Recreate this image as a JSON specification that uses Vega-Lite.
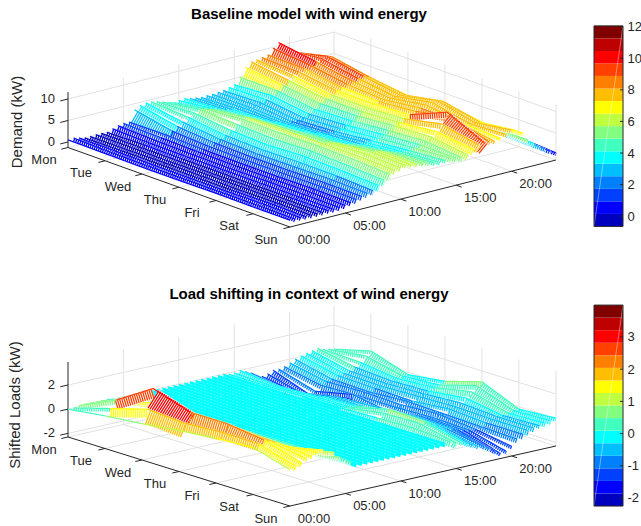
{"$schema":"https://vega.github.io/schema/vega-lite/v6.json","padding":0,"background":"white","config":{"view":{"stroke":null},"text":{"font":"Liberation Sans","fontSize":13,"fill":"#262626"},"title":{"font":"Liberation Sans","fontSize":15,"fontWeight":"bold","color":"#000000"}},"spacing":0,"resolve":{"scale":{"color":"independent"}},
"datasets":{
"jet":[{"lo":-0.65,"hi":0.14},{"lo":0.14,"hi":0.94},{"lo":0.94,"hi":1.73},{"lo":1.73,"hi":2.53},{"lo":2.53,"hi":3.32},{"lo":3.32,"hi":4.11},{"lo":4.11,"hi":4.91},{"lo":4.91,"hi":5.7},{"lo":5.7,"hi":6.49},{"lo":6.49,"hi":7.29},{"lo":7.29,"hi":8.08},{"lo":8.08,"hi":8.88},{"lo":8.88,"hi":9.67},{"lo":9.67,"hi":10.46},{"lo":10.46,"hi":11.26},{"lo":11.26,"hi":12.05}],
"jet2":[{"lo":-2.25,"hi":-1.86},{"lo":-1.86,"hi":-1.47},{"lo":-1.47,"hi":-1.08},{"lo":-1.08,"hi":-0.69},{"lo":-0.69,"hi":-0.3},{"lo":-0.3,"hi":0.09},{"lo":0.09,"hi":0.48},{"lo":0.48,"hi":0.87},{"lo":0.87,"hi":1.26},{"lo":1.26,"hi":1.65},{"lo":1.65,"hi":2.04},{"lo":2.04,"hi":2.43},{"lo":2.43,"hi":2.82},{"lo":2.82,"hi":3.21},{"lo":3.21,"hi":3.6},{"lo":3.6,"hi":3.99}],
"g1":[
{"k":"g","d":0,"h":0,"z":0,"d2":0,"h2":24,"z2":0},{"k":"g","d":0,"h":0,"z":5,"d2":0,"h2":24,"z2":5},{"k":"g","d":0,"h":0,"z":10,"d2":0,"h2":24,"z2":10},
{"k":"g","d":0,"h":24,"z":0,"d2":6,"h2":24,"z2":0},{"k":"g","d":0,"h":24,"z":5,"d2":6,"h2":24,"z2":5},{"k":"g","d":0,"h":24,"z":10,"d2":6,"h2":24,"z2":10},
{"k":"g","d":0,"h":5,"z":-1.28,"d2":0,"h2":5,"z2":11.6},{"k":"g","d":0,"h":10,"z":-1.28,"d2":0,"h2":10,"z2":11.6},{"k":"g","d":0,"h":15,"z":-1.28,"d2":0,"h2":15,"z2":11.6},{"k":"g","d":0,"h":20,"z":-1.28,"d2":0,"h2":20,"z2":11.6},{"k":"g","d":0,"h":24,"z":-1.28,"d2":0,"h2":24,"z2":10},
{"k":"g","d":1,"h":24,"z":-1.28,"d2":1,"h2":24,"z2":11.6},{"k":"g","d":2,"h":24,"z":-1.28,"d2":2,"h2":24,"z2":11.6},{"k":"g","d":3,"h":24,"z":-1.28,"d2":3,"h2":24,"z2":11.6},{"k":"g","d":4,"h":24,"z":-1.28,"d2":4,"h2":24,"z2":11.6},{"k":"g","d":5,"h":24,"z":-1.28,"d2":5,"h2":24,"z2":11.6},{"k":"g","d":6,"h":24,"z":-1.28,"d2":6,"h2":24,"z2":11.6},
{"k":"g","d":0,"h":24,"z":-1.28,"d2":6,"h2":24,"z2":-1.28},{"k":"g","d":0,"h":0,"z":-1.28,"d2":0,"h2":24,"z2":-1.28},
{"k":"g","d":1,"h":0,"z":-1.28,"d2":1,"h2":24,"z2":-1.28},{"k":"g","d":2,"h":0,"z":-1.28,"d2":2,"h2":24,"z2":-1.28},{"k":"g","d":3,"h":0,"z":-1.28,"d2":3,"h2":24,"z2":-1.28},{"k":"g","d":4,"h":0,"z":-1.28,"d2":4,"h2":24,"z2":-1.28},{"k":"g","d":5,"h":0,"z":-1.28,"d2":5,"h2":24,"z2":-1.28},
{"k":"g","d":0,"h":5,"z":-1.28,"d2":6,"h2":5,"z2":-1.28},{"k":"g","d":0,"h":10,"z":-1.28,"d2":6,"h2":10,"z2":-1.28},{"k":"g","d":0,"h":15,"z":-1.28,"d2":6,"h2":15,"z2":-1.28},{"k":"g","d":0,"h":20,"z":-1.28,"d2":6,"h2":20,"z2":-1.28},
{"k":"a","d":0,"h":0,"z":-1.28,"d2":0,"h2":0,"z2":11.6},{"k":"a","d":0,"h":0,"z":-1.28,"d2":6,"h2":0,"z2":-1.28},{"k":"a","d":6,"h":0,"z":-1.28,"d2":6,"h2":24,"z2":-1.28},
{"k":"a","d":0,"h":0,"z":0,"d2":0,"h2":-0.7,"z2":0},{"k":"a","d":0,"h":0,"z":5,"d2":0,"h2":-0.7,"z2":5},{"k":"a","d":0,"h":0,"z":10,"d2":0,"h2":-0.7,"z2":10},
{"k":"a","d":0,"h":0,"z":-1.28,"d2":0,"h2":-0.6,"z2":-1.28},{"k":"a","d":1,"h":0,"z":-1.28,"d2":1,"h2":-0.6,"z2":-1.28},{"k":"a","d":2,"h":0,"z":-1.28,"d2":2,"h2":-0.6,"z2":-1.28},{"k":"a","d":3,"h":0,"z":-1.28,"d2":3,"h2":-0.6,"z2":-1.28},{"k":"a","d":4,"h":0,"z":-1.28,"d2":4,"h2":-0.6,"z2":-1.28},{"k":"a","d":5,"h":0,"z":-1.28,"d2":5,"h2":-0.6,"z2":-1.28},{"k":"a","d":6,"h":0,"z":-1.28,"d2":6,"h2":-0.6,"z2":-1.28},
{"k":"a","d":6,"h":5,"z":-1.28,"d2":6.15,"h2":5,"z2":-1.28},{"k":"a","d":6,"h":10,"z":-1.28,"d2":6.15,"h2":10,"z2":-1.28},{"k":"a","d":6,"h":15,"z":-1.28,"d2":6.15,"h2":15,"z2":-1.28},{"k":"a","d":6,"h":20,"z":-1.28,"d2":6.15,"h2":20,"z2":-1.28}],
"g2":[
{"k":"g","d":0,"h":0,"z":-2,"d2":0,"h2":24,"z2":-2},{"k":"g","d":0,"h":0,"z":0,"d2":0,"h2":24,"z2":0},{"k":"g","d":0,"h":0,"z":2,"d2":0,"h2":24,"z2":2},
{"k":"g","d":0,"h":24,"z":-2,"d2":6,"h2":24,"z2":-2},{"k":"g","d":0,"h":24,"z":0,"d2":6,"h2":24,"z2":0},{"k":"g","d":0,"h":24,"z":2,"d2":6,"h2":24,"z2":2},
{"k":"g","d":0,"h":5,"z":-2.3,"d2":0,"h2":5,"z2":3.9},{"k":"g","d":0,"h":10,"z":-2.3,"d2":0,"h2":10,"z2":3.9},{"k":"g","d":0,"h":15,"z":-2.3,"d2":0,"h2":15,"z2":3.9},{"k":"g","d":0,"h":20,"z":-2.3,"d2":0,"h2":20,"z2":3.9},{"k":"g","d":0,"h":24,"z":-2.3,"d2":0,"h2":24,"z2":3.6},
{"k":"g","d":1,"h":24,"z":-2.3,"d2":1,"h2":24,"z2":3.9},{"k":"g","d":2,"h":24,"z":-2.3,"d2":2,"h2":24,"z2":3.9},{"k":"g","d":3,"h":24,"z":-2.3,"d2":3,"h2":24,"z2":3.9},{"k":"g","d":4,"h":24,"z":-2.3,"d2":4,"h2":24,"z2":3.9},{"k":"g","d":5,"h":24,"z":-2.3,"d2":5,"h2":24,"z2":3.9},{"k":"g","d":6,"h":24,"z":-2.3,"d2":6,"h2":24,"z2":3.9},
{"k":"g","d":0,"h":24,"z":-2.3,"d2":6,"h2":24,"z2":-2.3},{"k":"g","d":0,"h":0,"z":-2.3,"d2":0,"h2":24,"z2":-2.3},
{"k":"g","d":1,"h":0,"z":-2.3,"d2":1,"h2":24,"z2":-2.3},{"k":"g","d":2,"h":0,"z":-2.3,"d2":2,"h2":24,"z2":-2.3},{"k":"g","d":3,"h":0,"z":-2.3,"d2":3,"h2":24,"z2":-2.3},{"k":"g","d":4,"h":0,"z":-2.3,"d2":4,"h2":24,"z2":-2.3},{"k":"g","d":5,"h":0,"z":-2.3,"d2":5,"h2":24,"z2":-2.3},
{"k":"g","d":0,"h":5,"z":-2.3,"d2":6,"h2":5,"z2":-2.3},{"k":"g","d":0,"h":10,"z":-2.3,"d2":6,"h2":10,"z2":-2.3},{"k":"g","d":0,"h":15,"z":-2.3,"d2":6,"h2":15,"z2":-2.3},{"k":"g","d":0,"h":20,"z":-2.3,"d2":6,"h2":20,"z2":-2.3},
{"k":"a","d":0,"h":0,"z":-2.3,"d2":0,"h2":0,"z2":3.9},{"k":"a","d":0,"h":0,"z":-2.3,"d2":6,"h2":0,"z2":-2.3},{"k":"a","d":6,"h":0,"z":-2.3,"d2":6,"h2":24,"z2":-2.3},
{"k":"a","d":0,"h":0,"z":-2,"d2":0,"h2":-0.7,"z2":-2},{"k":"a","d":0,"h":0,"z":0,"d2":0,"h2":-0.7,"z2":0},{"k":"a","d":0,"h":0,"z":2,"d2":0,"h2":-0.7,"z2":2},
{"k":"a","d":0,"h":0,"z":-2.3,"d2":0,"h2":-0.6,"z2":-2.3},{"k":"a","d":1,"h":0,"z":-2.3,"d2":1,"h2":-0.6,"z2":-2.3},{"k":"a","d":2,"h":0,"z":-2.3,"d2":2,"h2":-0.6,"z2":-2.3},{"k":"a","d":3,"h":0,"z":-2.3,"d2":3,"h2":-0.6,"z2":-2.3},{"k":"a","d":4,"h":0,"z":-2.3,"d2":4,"h2":-0.6,"z2":-2.3},{"k":"a","d":5,"h":0,"z":-2.3,"d2":5,"h2":-0.6,"z2":-2.3},{"k":"a","d":6,"h":0,"z":-2.3,"d2":6,"h2":-0.6,"z2":-2.3},
{"k":"a","d":6,"h":5,"z":-2.3,"d2":6.15,"h2":5,"z2":-2.3},{"k":"a","d":6,"h":10,"z":-2.3,"d2":6.15,"h2":10,"z2":-2.3},{"k":"a","d":6,"h":15,"z":-2.3,"d2":6.15,"h2":15,"z2":-2.3},{"k":"a","d":6,"h":20,"z":-2.3,"d2":6.15,"h2":20,"z2":-2.3}],
"s1":[
{"h":0,"d":0,"z":0.5},{"h":0,"d":1,"z":0.4},{"h":0,"d":2,"z":0.3},{"h":0,"d":3,"z":0.3},{"h":0,"d":4,"z":0.4},{"h":0,"d":5,"z":0.3},{"h":0,"d":6,"z":0.3},
{"h":0.5,"d":0,"z":0.6},{"h":0.5,"d":1,"z":0.4},{"h":0.5,"d":2,"z":0.3},{"h":0.5,"d":3,"z":0.3},{"h":0.5,"d":4,"z":0.3},{"h":0.5,"d":5,"z":0.3},{"h":0.5,"d":6,"z":0.2},
{"h":1,"d":0,"z":0.3},{"h":1,"d":1,"z":0.3},{"h":1,"d":2,"z":0.2},{"h":1,"d":3,"z":0.2},{"h":1,"d":4,"z":0.2},{"h":1,"d":5,"z":0.3},{"h":1,"d":6,"z":0.2},
{"h":1.5,"d":0,"z":0},{"h":1.5,"d":1,"z":0.1},{"h":1.5,"d":2,"z":0.1},{"h":1.5,"d":3,"z":0.1},{"h":1.5,"d":4,"z":0.1},{"h":1.5,"d":5,"z":0.2},{"h":1.5,"d":6,"z":0.1},
{"h":2,"d":0,"z":0},{"h":2,"d":1,"z":0},{"h":2,"d":2,"z":0.1},{"h":2,"d":3,"z":0.1},{"h":2,"d":4,"z":0},{"h":2,"d":5,"z":0.1},{"h":2,"d":6,"z":0.1},
{"h":2.5,"d":0,"z":0.1},{"h":2.5,"d":1,"z":0.1},{"h":2.5,"d":2,"z":0},{"h":2.5,"d":3,"z":0.1},{"h":2.5,"d":4,"z":0.1},{"h":2.5,"d":5,"z":0.1},{"h":2.5,"d":6,"z":0.1},
{"h":3,"d":0,"z":0.1},{"h":3,"d":1,"z":0.1},{"h":3,"d":2,"z":0.1},{"h":3,"d":3,"z":0},{"h":3,"d":4,"z":0.1},{"h":3,"d":5,"z":0.1},{"h":3,"d":6,"z":0.1},
{"h":3.5,"d":0,"z":0},{"h":3.5,"d":1,"z":0.2},{"h":3.5,"d":2,"z":0.1},{"h":3.5,"d":3,"z":0.1},{"h":3.5,"d":4,"z":0},{"h":3.5,"d":5,"z":0.1},{"h":3.5,"d":6,"z":0.2},
{"h":4,"d":0,"z":0.5},{"h":4,"d":1,"z":0.3},{"h":4,"d":2,"z":0.2},{"h":4,"d":3,"z":0.2},{"h":4,"d":4,"z":0.2},{"h":4,"d":5,"z":0.2},{"h":4,"d":6,"z":0.2},
{"h":4.5,"d":0,"z":0.9},{"h":4.5,"d":1,"z":0.6},{"h":4.5,"d":2,"z":0.4},{"h":4.5,"d":3,"z":0.3},{"h":4.5,"d":4,"z":0.4},{"h":4.5,"d":5,"z":0.4},{"h":4.5,"d":6,"z":0.3},
{"h":5,"d":0,"z":1.1},{"h":5,"d":1,"z":0.9},{"h":5,"d":2,"z":0.7},{"h":5,"d":3,"z":0.6},{"h":5,"d":4,"z":0.6},{"h":5,"d":5,"z":0.7},{"h":5,"d":6,"z":0.5},
{"h":5.5,"d":0,"z":1.1},{"h":5.5,"d":1,"z":1.2},{"h":5.5,"d":2,"z":0.9},{"h":5.5,"d":3,"z":0.8},{"h":5.5,"d":4,"z":0.8},{"h":5.5,"d":5,"z":0.9},{"h":5.5,"d":6,"z":0.8},
{"h":6,"d":0,"z":3.6},{"h":6,"d":1,"z":1.8},{"h":6,"d":2,"z":1.3},{"h":6,"d":3,"z":1.2},{"h":6,"d":4,"z":1.2},{"h":6,"d":5,"z":1.3},{"h":6,"d":6,"z":1.2},
{"h":6.5,"d":0,"z":4.3},{"h":6.5,"d":1,"z":2.5},{"h":6.5,"d":2,"z":1.8},{"h":6.5,"d":3,"z":1.6},{"h":6.5,"d":4,"z":1.6},{"h":6.5,"d":5,"z":1.7},{"h":6.5,"d":6,"z":1.6},
{"h":7,"d":0,"z":4.6},{"h":7,"d":1,"z":3.2},{"h":7,"d":2,"z":2.3},{"h":7,"d":3,"z":2},{"h":7,"d":4,"z":2.1},{"h":7,"d":5,"z":2.2},{"h":7,"d":6,"z":2},
{"h":7.5,"d":0,"z":4.5},{"h":7.5,"d":1,"z":4},{"h":7.5,"d":2,"z":2.9},{"h":7.5,"d":3,"z":2.6},{"h":7.5,"d":4,"z":2.8},{"h":7.5,"d":5,"z":2.7},{"h":7.5,"d":6,"z":2.3},
{"h":8,"d":0,"z":4.2},{"h":8,"d":1,"z":4.7},{"h":8,"d":2,"z":3.7},{"h":8,"d":3,"z":3.4},{"h":8,"d":4,"z":3.8},{"h":8,"d":5,"z":3.6},{"h":8,"d":6,"z":3.2},
{"h":8.5,"d":0,"z":3.8},{"h":8.5,"d":1,"z":5.2},{"h":8.5,"d":2,"z":4.8},{"h":8.5,"d":3,"z":4.5},{"h":8.5,"d":4,"z":4.8},{"h":8.5,"d":5,"z":4.5},{"h":8.5,"d":6,"z":4.1},
{"h":9,"d":0,"z":3.4},{"h":9,"d":1,"z":5},{"h":9,"d":2,"z":5.7},{"h":9,"d":3,"z":5.6},{"h":9,"d":4,"z":5.8},{"h":9,"d":5,"z":5.6},{"h":9,"d":6,"z":5.2},
{"h":9.5,"d":0,"z":3},{"h":9.5,"d":1,"z":4.6},{"h":9.5,"d":2,"z":5.7},{"h":9.5,"d":3,"z":5.9},{"h":9.5,"d":4,"z":5.9},{"h":9.5,"d":5,"z":6},{"h":9.5,"d":6,"z":5.7},
{"h":10,"d":0,"z":3.2},{"h":10,"d":1,"z":4.2},{"h":10,"d":2,"z":5.2},{"h":10,"d":3,"z":5.6},{"h":10,"d":4,"z":5.8},{"h":10,"d":5,"z":6.3},{"h":10,"d":6,"z":6},
{"h":10.5,"d":0,"z":3.3},{"h":10.5,"d":1,"z":3.8},{"h":10.5,"d":2,"z":4.5},{"h":10.5,"d":3,"z":5},{"h":10.5,"d":4,"z":5.4},{"h":10.5,"d":5,"z":6.4},{"h":10.5,"d":6,"z":6.2},
{"h":11,"d":0,"z":3},{"h":11,"d":1,"z":3.4},{"h":11,"d":2,"z":3.9},{"h":11,"d":3,"z":4.4},{"h":11,"d":4,"z":4.9},{"h":11,"d":5,"z":6.2},{"h":11,"d":6,"z":6},
{"h":11.5,"d":0,"z":2.8},{"h":11.5,"d":1,"z":3.2},{"h":11.5,"d":2,"z":3.5},{"h":11.5,"d":3,"z":4},{"h":11.5,"d":4,"z":4.4},{"h":11.5,"d":5,"z":5.9},{"h":11.5,"d":6,"z":5.8},
{"h":12,"d":0,"z":2.6},{"h":12,"d":1,"z":3},{"h":12,"d":2,"z":3.1},{"h":12,"d":3,"z":3.6},{"h":12,"d":4,"z":4},{"h":12,"d":5,"z":5.5},{"h":12,"d":6,"z":5.7},
{"h":12.5,"d":0,"z":2.7},{"h":12.5,"d":1,"z":2.9},{"h":12.5,"d":2,"z":2.7},{"h":12.5,"d":3,"z":3.2},{"h":12.5,"d":4,"z":3.7},{"h":12.5,"d":5,"z":5},{"h":12.5,"d":6,"z":5.5},
{"h":13,"d":0,"z":2.7},{"h":13,"d":1,"z":2.8},{"h":13,"d":2,"z":2.4},{"h":13,"d":3,"z":2.9},{"h":13,"d":4,"z":3.5},{"h":13,"d":5,"z":4.6},{"h":13,"d":6,"z":5.2},
{"h":13.5,"d":0,"z":2.8},{"h":13.5,"d":1,"z":3},{"h":13.5,"d":2,"z":2.2},{"h":13.5,"d":3,"z":2.7},{"h":13.5,"d":4,"z":3.5},{"h":13.5,"d":5,"z":4.4},{"h":13.5,"d":6,"z":5},
{"h":14,"d":0,"z":2.9},{"h":14,"d":1,"z":3.2},{"h":14,"d":2,"z":2.2},{"h":14,"d":3,"z":2.7},{"h":14,"d":4,"z":3.6},{"h":14,"d":5,"z":4.4},{"h":14,"d":6,"z":5.1},
{"h":14.5,"d":0,"z":3.3},{"h":14.5,"d":1,"z":3.6},{"h":14.5,"d":2,"z":2.5},{"h":14.5,"d":3,"z":3},{"h":14.5,"d":4,"z":3.9},{"h":14.5,"d":5,"z":4.7},{"h":14.5,"d":6,"z":5.3},
{"h":15,"d":0,"z":3.6},{"h":15,"d":1,"z":4.2},{"h":15,"d":2,"z":3},{"h":15,"d":3,"z":3.5},{"h":15,"d":4,"z":4.4},{"h":15,"d":5,"z":5.1},{"h":15,"d":6,"z":5},
{"h":15.5,"d":0,"z":5},{"h":15.5,"d":1,"z":5},{"h":15.5,"d":2,"z":3.8},{"h":15.5,"d":3,"z":4.2},{"h":15.5,"d":4,"z":5},{"h":15.5,"d":5,"z":5.6},{"h":15.5,"d":6,"z":4.8},
{"h":16,"d":0,"z":7},{"h":16,"d":1,"z":6},{"h":16,"d":2,"z":4.8},{"h":16,"d":3,"z":5},{"h":16,"d":4,"z":5.8},{"h":16,"d":5,"z":6.3},{"h":16,"d":6,"z":5.2},
{"h":16.5,"d":0,"z":8},{"h":16.5,"d":1,"z":6.8},{"h":16.5,"d":2,"z":5.6},{"h":16.5,"d":3,"z":5.6},{"h":16.5,"d":4,"z":6.2},{"h":16.5,"d":5,"z":7.2},{"h":16.5,"d":6,"z":6.2},
{"h":17,"d":0,"z":8.1},{"h":17,"d":1,"z":7.5},{"h":17,"d":2,"z":6.2},{"h":17,"d":3,"z":6.2},{"h":17,"d":4,"z":6.7},{"h":17,"d":5,"z":8.6},{"h":17,"d":6,"z":6.8},
{"h":17.5,"d":0,"z":8.3},{"h":17.5,"d":1,"z":8},{"h":17.5,"d":2,"z":6.8},{"h":17.5,"d":3,"z":6.8},{"h":17.5,"d":4,"z":7.3},{"h":17.5,"d":5,"z":11},{"h":17.5,"d":6,"z":7},
{"h":18,"d":0,"z":8.6},{"h":18,"d":1,"z":8.5},{"h":18,"d":2,"z":7.2},{"h":18,"d":3,"z":7},{"h":18,"d":4,"z":7.8},{"h":18,"d":5,"z":9.5},{"h":18,"d":6,"z":6.8},
{"h":18.5,"d":0,"z":9.8},{"h":18.5,"d":1,"z":9},{"h":18.5,"d":2,"z":7.6},{"h":18.5,"d":3,"z":7.1},{"h":18.5,"d":4,"z":8.2},{"h":18.5,"d":5,"z":8},{"h":18.5,"d":6,"z":6.6},
{"h":19,"d":0,"z":10.8},{"h":19,"d":1,"z":9.5},{"h":19,"d":2,"z":8},{"h":19,"d":3,"z":7.2},{"h":19,"d":4,"z":8.6},{"h":19,"d":5,"z":7.4},{"h":19,"d":6,"z":7},
{"h":19.5,"d":0,"z":9},{"h":19.5,"d":1,"z":9.9},{"h":19.5,"d":2,"z":8.3},{"h":19.5,"d":3,"z":7.2},{"h":19.5,"d":4,"z":8.9},{"h":19.5,"d":5,"z":7.1},{"h":19.5,"d":6,"z":7.6},
{"h":20,"d":0,"z":7.9},{"h":20,"d":1,"z":10.1},{"h":20,"d":2,"z":8.5},{"h":20,"d":3,"z":7.1},{"h":20,"d":4,"z":9},{"h":20,"d":5,"z":7},{"h":20,"d":6,"z":8.3},
{"h":20.5,"d":0,"z":7.6},{"h":20.5,"d":1,"z":9.6},{"h":20.5,"d":2,"z":8},{"h":20.5,"d":3,"z":6.8},{"h":20.5,"d":4,"z":8.5},{"h":20.5,"d":5,"z":6.7},{"h":20.5,"d":6,"z":7.8},
{"h":21,"d":0,"z":7},{"h":21,"d":1,"z":8.4},{"h":21,"d":2,"z":7},{"h":21,"d":3,"z":6},{"h":21,"d":4,"z":7.2},{"h":21,"d":5,"z":6},{"h":21,"d":6,"z":7},
{"h":21.5,"d":0,"z":6.2},{"h":21.5,"d":1,"z":7},{"h":21.5,"d":2,"z":5.8},{"h":21.5,"d":3,"z":5},{"h":21.5,"d":4,"z":5.8},{"h":21.5,"d":5,"z":5},{"h":21.5,"d":6,"z":5},
{"h":22,"d":0,"z":5.2},{"h":22,"d":1,"z":5.5},{"h":22,"d":2,"z":4.6},{"h":22,"d":3,"z":4},{"h":22,"d":4,"z":4.5},{"h":22,"d":5,"z":4},{"h":22,"d":6,"z":3.9},
{"h":22.5,"d":0,"z":4},{"h":22.5,"d":1,"z":4.2},{"h":22.5,"d":2,"z":3.5},{"h":22.5,"d":3,"z":3.1},{"h":22.5,"d":4,"z":3.4},{"h":22.5,"d":5,"z":3},{"h":22.5,"d":6,"z":2.8},
{"h":23,"d":0,"z":3},{"h":23,"d":1,"z":3},{"h":23,"d":2,"z":2.5},{"h":23,"d":3,"z":2.3},{"h":23,"d":4,"z":2.4},{"h":23,"d":5,"z":2.2},{"h":23,"d":6,"z":2},
{"h":23.5,"d":0,"z":2},{"h":23.5,"d":1,"z":2},{"h":23.5,"d":2,"z":1.7},{"h":23.5,"d":3,"z":1.6},{"h":23.5,"d":4,"z":1.6},{"h":23.5,"d":5,"z":1.5},{"h":23.5,"d":6,"z":1.1},
{"h":24,"d":0,"z":1.2},{"h":24,"d":1,"z":1.2},{"h":24,"d":2,"z":1.1},{"h":24,"d":3,"z":1},{"h":24,"d":4,"z":1},{"h":24,"d":5,"z":0.9},{"h":24,"d":6,"z":0.4}],
"s2":[
{"h":0,"d":0,"z":0},{"h":0,"d":1,"z":0.4},{"h":0,"d":2,"z":0.7},{"h":0,"d":3,"z":1.1},{"h":0,"d":4,"z":1.4},{"h":0,"d":5,"z":1.6},{"h":0,"d":6,"z":0.7},
{"h":0.5,"d":0,"z":0},{"h":0.5,"d":1,"z":0.9},{"h":0.5,"d":2,"z":1.8},{"h":0.5,"d":3,"z":1.6},{"h":0.5,"d":4,"z":1.8},{"h":0.5,"d":5,"z":1.8},{"h":0.5,"d":6,"z":0.9},
{"h":1,"d":0,"z":0.1},{"h":1,"d":1,"z":1.5},{"h":1,"d":2,"z":3.4},{"h":1,"d":3,"z":2.4},{"h":1,"d":4,"z":2.4},{"h":1,"d":5,"z":2},{"h":1,"d":6,"z":1.1},
{"h":1.5,"d":0,"z":0.1},{"h":1.5,"d":1,"z":1.4},{"h":1.5,"d":2,"z":2.6},{"h":1.5,"d":3,"z":2.1},{"h":1.5,"d":4,"z":2.1},{"h":1.5,"d":5,"z":1.8},{"h":1.5,"d":6,"z":1.3},
{"h":2,"d":0,"z":0.1},{"h":2,"d":1,"z":1.2},{"h":2,"d":2,"z":2},{"h":2,"d":3,"z":1.7},{"h":2,"d":4,"z":1.8},{"h":2,"d":5,"z":1.6},{"h":2,"d":6,"z":1.4},
{"h":2.5,"d":0,"z":0.1},{"h":2.5,"d":1,"z":1},{"h":2.5,"d":2,"z":1.6},{"h":2.5,"d":3,"z":1.4},{"h":2.5,"d":4,"z":1.5},{"h":2.5,"d":5,"z":1.3},{"h":2.5,"d":6,"z":1.6},
{"h":3,"d":0,"z":0.1},{"h":3,"d":1,"z":0.9},{"h":3,"d":2,"z":1.3},{"h":3,"d":3,"z":1.1},{"h":3,"d":4,"z":1.2},{"h":3,"d":5,"z":1},{"h":3,"d":6,"z":1.7},
{"h":3.5,"d":0,"z":0.1},{"h":3.5,"d":1,"z":0.7},{"h":3.5,"d":2,"z":1},{"h":3.5,"d":3,"z":0.9},{"h":3.5,"d":4,"z":0.9},{"h":3.5,"d":5,"z":0.8},{"h":3.5,"d":6,"z":1.4},
{"h":4,"d":0,"z":0},{"h":4,"d":1,"z":0.5},{"h":4,"d":2,"z":0.7},{"h":4,"d":3,"z":0.6},{"h":4,"d":4,"z":0.7},{"h":4,"d":5,"z":0.6},{"h":4,"d":6,"z":1.3},
{"h":4.5,"d":0,"z":0},{"h":4.5,"d":1,"z":0.3},{"h":4.5,"d":2,"z":0.4},{"h":4.5,"d":3,"z":0.4},{"h":4.5,"d":4,"z":0.4},{"h":4.5,"d":5,"z":0.4},{"h":4.5,"d":6,"z":0.8},
{"h":5,"d":0,"z":0},{"h":5,"d":1,"z":0.2},{"h":5,"d":2,"z":0.2},{"h":5,"d":3,"z":0.2},{"h":5,"d":4,"z":0.2},{"h":5,"d":5,"z":0.2},{"h":5,"d":6,"z":0.5},
{"h":5.5,"d":0,"z":0},{"h":5.5,"d":1,"z":0.1},{"h":5.5,"d":2,"z":0.1},{"h":5.5,"d":3,"z":0.1},{"h":5.5,"d":4,"z":0.1},{"h":5.5,"d":5,"z":0.1},{"h":5.5,"d":6,"z":0.2},
{"h":6,"d":0,"z":0},{"h":6,"d":1,"z":0},{"h":6,"d":2,"z":0},{"h":6,"d":3,"z":0},{"h":6,"d":4,"z":0},{"h":6,"d":5,"z":0},{"h":6,"d":6,"z":0},
{"h":6.5,"d":0,"z":0},{"h":6.5,"d":1,"z":0},{"h":6.5,"d":2,"z":0},{"h":6.5,"d":3,"z":0},{"h":6.5,"d":4,"z":0},{"h":6.5,"d":5,"z":0},{"h":6.5,"d":6,"z":0},
{"h":7,"d":0,"z":0},{"h":7,"d":1,"z":0},{"h":7,"d":2,"z":0},{"h":7,"d":3,"z":0},{"h":7,"d":4,"z":0},{"h":7,"d":5,"z":0},{"h":7,"d":6,"z":0},
{"h":7.5,"d":0,"z":0},{"h":7.5,"d":1,"z":0},{"h":7.5,"d":2,"z":0},{"h":7.5,"d":3,"z":0},{"h":7.5,"d":4,"z":0},{"h":7.5,"d":5,"z":0},{"h":7.5,"d":6,"z":0},
{"h":8,"d":0,"z":0},{"h":8,"d":1,"z":0},{"h":8,"d":2,"z":0},{"h":8,"d":3,"z":0},{"h":8,"d":4,"z":0},{"h":8,"d":5,"z":0},{"h":8,"d":6,"z":0},
{"h":8.5,"d":0,"z":0},{"h":8.5,"d":1,"z":0},{"h":8.5,"d":2,"z":0},{"h":8.5,"d":3,"z":0},{"h":8.5,"d":4,"z":0},{"h":8.5,"d":5,"z":0},{"h":8.5,"d":6,"z":0},
{"h":9,"d":0,"z":0},{"h":9,"d":1,"z":0},{"h":9,"d":2,"z":0},{"h":9,"d":3,"z":0},{"h":9,"d":4,"z":0},{"h":9,"d":5,"z":0},{"h":9,"d":6,"z":0},
{"h":9.5,"d":0,"z":0},{"h":9.5,"d":1,"z":0},{"h":9.5,"d":2,"z":0},{"h":9.5,"d":3,"z":0},{"h":9.5,"d":4,"z":0},{"h":9.5,"d":5,"z":0},{"h":9.5,"d":6,"z":0},
{"h":10,"d":0,"z":0},{"h":10,"d":1,"z":0},{"h":10,"d":2,"z":0},{"h":10,"d":3,"z":0},{"h":10,"d":4,"z":0},{"h":10,"d":5,"z":0},{"h":10,"d":6,"z":0},
{"h":10.5,"d":0,"z":0},{"h":10.5,"d":1,"z":0},{"h":10.5,"d":2,"z":0},{"h":10.5,"d":3,"z":0},{"h":10.5,"d":4,"z":0},{"h":10.5,"d":5,"z":0},{"h":10.5,"d":6,"z":0},
{"h":11,"d":0,"z":0},{"h":11,"d":1,"z":0},{"h":11,"d":2,"z":0},{"h":11,"d":3,"z":0},{"h":11,"d":4,"z":0},{"h":11,"d":5,"z":0},{"h":11,"d":6,"z":0},
{"h":11.5,"d":0,"z":0},{"h":11.5,"d":1,"z":0},{"h":11.5,"d":2,"z":0},{"h":11.5,"d":3,"z":0},{"h":11.5,"d":4,"z":0},{"h":11.5,"d":5,"z":0},{"h":11.5,"d":6,"z":0},
{"h":12,"d":0,"z":0},{"h":12,"d":1,"z":0},{"h":12,"d":2,"z":0},{"h":12,"d":3,"z":0},{"h":12,"d":4,"z":0},{"h":12,"d":5,"z":0},{"h":12,"d":6,"z":0},
{"h":12.5,"d":0,"z":0},{"h":12.5,"d":1,"z":0},{"h":12.5,"d":2,"z":0},{"h":12.5,"d":3,"z":0},{"h":12.5,"d":4,"z":0},{"h":12.5,"d":5,"z":0},{"h":12.5,"d":6,"z":0},
{"h":13,"d":0,"z":0},{"h":13,"d":1,"z":0},{"h":13,"d":2,"z":0},{"h":13,"d":3,"z":0},{"h":13,"d":4,"z":0},{"h":13,"d":5,"z":0},{"h":13,"d":6,"z":0},
{"h":13.5,"d":0,"z":0},{"h":13.5,"d":1,"z":0},{"h":13.5,"d":2,"z":0},{"h":13.5,"d":3,"z":0},{"h":13.5,"d":4,"z":0},{"h":13.5,"d":5,"z":0},{"h":13.5,"d":6,"z":0},
{"h":14,"d":0,"z":0},{"h":14,"d":1,"z":0},{"h":14,"d":2,"z":0},{"h":14,"d":3,"z":0},{"h":14,"d":4,"z":0},{"h":14,"d":5,"z":0},{"h":14,"d":6,"z":0},
{"h":14.5,"d":0,"z":-0.1},{"h":14.5,"d":1,"z":-0.1},{"h":14.5,"d":2,"z":0},{"h":14.5,"d":3,"z":0},{"h":14.5,"d":4,"z":0.1},{"h":14.5,"d":5,"z":0.2},{"h":14.5,"d":6,"z":0},
{"h":15,"d":0,"z":-0.1},{"h":15,"d":1,"z":-0.2},{"h":15,"d":2,"z":-0.1},{"h":15,"d":3,"z":-0.1},{"h":15,"d":4,"z":0.4},{"h":15,"d":5,"z":0.5},{"h":15,"d":6,"z":-0.2},
{"h":15.5,"d":0,"z":0},{"h":15.5,"d":1,"z":-0.3},{"h":15.5,"d":2,"z":-0.2},{"h":15.5,"d":3,"z":-0.2},{"h":15.5,"d":4,"z":0.6},{"h":15.5,"d":5,"z":0.5},{"h":15.5,"d":6,"z":-0.3},
{"h":16,"d":0,"z":-0.2},{"h":16,"d":1,"z":-0.7},{"h":16,"d":2,"z":-0.3},{"h":16,"d":3,"z":-0.2},{"h":16,"d":4,"z":0.4},{"h":16,"d":5,"z":0.3},{"h":16,"d":6,"z":-0.5},
{"h":16.5,"d":0,"z":-0.4},{"h":16.5,"d":1,"z":-1},{"h":16.5,"d":2,"z":-0.4},{"h":16.5,"d":3,"z":-0.4},{"h":16.5,"d":4,"z":0.1},{"h":16.5,"d":5,"z":0},{"h":16.5,"d":6,"z":-0.7},
{"h":17,"d":0,"z":-0.7},{"h":17,"d":1,"z":-1.2},{"h":17,"d":2,"z":-0.5},{"h":17,"d":3,"z":-0.6},{"h":17,"d":4,"z":-0.2},{"h":17,"d":5,"z":-0.3},{"h":17,"d":6,"z":-0.9},
{"h":17.5,"d":0,"z":-0.9},{"h":17.5,"d":1,"z":-1.4},{"h":17.5,"d":2,"z":-0.7},{"h":17.5,"d":3,"z":-0.5},{"h":17.5,"d":4,"z":-0.3},{"h":17.5,"d":5,"z":-0.5},{"h":17.5,"d":6,"z":-1},
{"h":18,"d":0,"z":-0.8},{"h":18,"d":1,"z":-1.6},{"h":18,"d":2,"z":-0.9},{"h":18,"d":3,"z":-0.8},{"h":18,"d":4,"z":-0.5},{"h":18,"d":5,"z":-0.6},{"h":18,"d":6,"z":-1.3},
{"h":18.5,"d":0,"z":-0.6},{"h":18.5,"d":1,"z":-1.7},{"h":18.5,"d":2,"z":-1},{"h":18.5,"d":3,"z":-1.2},{"h":18.5,"d":4,"z":-0.6},{"h":18.5,"d":5,"z":-0.8},{"h":18.5,"d":6,"z":-1.6},
{"h":19,"d":0,"z":-0.6},{"h":19,"d":1,"z":-1.5},{"h":19,"d":2,"z":-0.8},{"h":19,"d":3,"z":-1.3},{"h":19,"d":4,"z":-0.8},{"h":19,"d":5,"z":-0.9},{"h":19,"d":6,"z":-1.9},
{"h":19.5,"d":0,"z":-0.5},{"h":19.5,"d":1,"z":-1.1},{"h":19.5,"d":2,"z":-1},{"h":19.5,"d":3,"z":-1},{"h":19.5,"d":4,"z":-0.9},{"h":19.5,"d":5,"z":-1},{"h":19.5,"d":6,"z":-1.8},
{"h":20,"d":0,"z":-0.3},{"h":20,"d":1,"z":-0.9},{"h":20,"d":2,"z":-0.8},{"h":20,"d":3,"z":-0.9},{"h":20,"d":4,"z":-0.7},{"h":20,"d":5,"z":-1},{"h":20,"d":6,"z":-1.5},
{"h":20.5,"d":0,"z":-0.1},{"h":20.5,"d":1,"z":-0.8},{"h":20.5,"d":2,"z":-0.9},{"h":20.5,"d":3,"z":-0.7},{"h":20.5,"d":4,"z":-0.8},{"h":20.5,"d":5,"z":-0.9},{"h":20.5,"d":6,"z":-1},
{"h":21,"d":0,"z":0.1},{"h":21,"d":1,"z":-0.6},{"h":21,"d":2,"z":-0.7},{"h":21,"d":3,"z":-0.8},{"h":21,"d":4,"z":-0.5},{"h":21,"d":5,"z":-0.7},{"h":21,"d":6,"z":-0.7},
{"h":21.5,"d":0,"z":0.2},{"h":21.5,"d":1,"z":-0.5},{"h":21.5,"d":2,"z":-0.6},{"h":21.5,"d":3,"z":-0.5},{"h":21.5,"d":4,"z":-0.4},{"h":21.5,"d":5,"z":-0.5},{"h":21.5,"d":6,"z":-0.5},
{"h":22,"d":0,"z":0.3},{"h":22,"d":1,"z":-0.4},{"h":22,"d":2,"z":-0.5},{"h":22,"d":3,"z":-0.4},{"h":22,"d":4,"z":-0.2},{"h":22,"d":5,"z":-0.4},{"h":22,"d":6,"z":-0.4},
{"h":22.5,"d":0,"z":0.4},{"h":22.5,"d":1,"z":-0.2},{"h":22.5,"d":2,"z":-0.4},{"h":22.5,"d":3,"z":-0.3},{"h":22.5,"d":4,"z":0.1},{"h":22.5,"d":5,"z":-0.4},{"h":22.5,"d":6,"z":-0.3},
{"h":23,"d":0,"z":0.2},{"h":23,"d":1,"z":0.1},{"h":23,"d":2,"z":-0.3},{"h":23,"d":3,"z":-0.1},{"h":23,"d":4,"z":0.5},{"h":23,"d":5,"z":-0.3},{"h":23,"d":6,"z":-0.2},
{"h":23.5,"d":0,"z":0.1},{"h":23.5,"d":1,"z":0.5},{"h":23.5,"d":2,"z":-0.2},{"h":23.5,"d":3,"z":0},{"h":23.5,"d":4,"z":0.9},{"h":23.5,"d":5,"z":-0.2},{"h":23.5,"d":6,"z":-0.1},
{"h":24,"d":0,"z":0},{"h":24,"d":1,"z":0.8},{"h":24,"d":2,"z":-0.2},{"h":24,"d":3,"z":0.2},{"h":24,"d":4,"z":1.1},{"h":24,"d":5,"z":-0.2},{"h":24,"d":6,"z":0}]
},
"vconcat":[
{"spacing":23,"resolve":{"scale":{"color":"independent"}},"hconcat":[
{"width":570,"height":270,"title":{"text":"Baseline model with wind energy","offset":-22,"dx":24,"anchor":"middle"},
"encoding":{"x":{"field":"px","type":"quantitative","scale":{"domain":[0,570],"nice":false,"zero":false},"axis":null},"y":{"field":"py","type":"quantitative","scale":{"domain":[270,0],"nice":false,"zero":false},"axis":null}},
"layer":[
{"data":{"name":"g1"},"transform":[{"calculate":"68+37*datum.d+11.08*datum.h","as":"px"},{"calculate":"147.5+13.25*datum.d-2.79*datum.h-4.3*(datum.z+1.28)","as":"py"},{"calculate":"68+37*datum.d2+11.08*datum.h2","as":"px2"},{"calculate":"147.5+13.25*datum.d2-2.79*datum.h2-4.3*(datum.z2+1.28)","as":"py2"}],
"mark":{"type":"rule","strokeWidth":1},"encoding":{"x2":{"field":"px2"},"y2":{"field":"py2"},"color":{"condition":{"test":"datum.k=='a'","value":"#262626"},"value":"#e2e2e2"}}},
{"data":{"name":"s1"},"transform":[{"window":[{"op":"lag","field":"z","as":"zb"}],"groupby":["d"],"sort":[{"field":"h"}]},{"window":[{"op":"lead","field":"z","as":"zn"},{"op":"lead","field":"d","as":"dn"}],"groupby":["h"],"sort":[{"field":"d"}]},{"filter":"datum.dn!=null"},{"calculate":"[0,1,2]","as":"w"},{"flatten":["w"]},{"filter":"datum.w==2||datum.h>0"},
{"calculate":"3.2+4*max(0,datum.z-(datum.zb==null?datum.z:datum.zb))","as":"bw"},{"calculate":"datum.w==2?0:datum.bw/2","as":"off"},{"calculate":"68+37*datum.d+11.08*datum.h","as":"px"},{"calculate":"147.5+13.25*datum.d-2.79*datum.h-4.3*(datum.z+1.28)+datum.off","as":"py"},{"calculate":"68+37*datum.dn+11.08*datum.h","as":"px2"},{"calculate":"147.5+13.25*datum.dn-2.79*datum.h-4.3*(datum.zn+1.28)+datum.off","as":"py2"},{"calculate":"(datum.z+datum.zn)/2","as":"zm"},{"calculate":"(24-datum.h)*10+datum.w","as":"o"},{"calculate":"datum.w==0?datum.bw+1:(datum.w==1?datum.bw:1.2)","as":"sw"},{"calculate":"datum.w==1?[1.3,0.9]:[1,0]","as":"dash"}],
"mark":{"type":"rule"},"encoding":{"x2":{"field":"px2"},"y2":{"field":"py2"},"order":{"field":"o","type":"quantitative"},"size":{"field":"sw","type":"quantitative","scale":null},"strokeDash":{"field":"dash","type":"nominal","scale":null},"color":{"condition":{"test":"datum.w==0","value":"white"},"field":"zm","type":"quantitative","scale":{"type":"quantize","domain":[-0.65,12.05],"nice":false,"zero":false,"range":["#0000bf","#0000ff","#0040ff","#0080ff","#00bfff","#00ffff","#40ffbf","#80ff80","#bfff40","#ffff00","#ffbf00","#ff8000","#ff4000","#ff0000","#bf0000","#800000"]},"legend":null}}},
{"data":{"values":[{"d":0,"h":0,"z":0,"t":"0"},{"d":0,"h":0,"z":5,"t":"5"},{"d":0,"h":0,"z":10,"t":"10"}]},"transform":[{"calculate":"68+37*datum.d+11.08*datum.h","as":"px"},{"calculate":"147.5+13.25*datum.d-2.79*datum.h-4.3*(datum.z+1.28)","as":"py"}],"mark":{"type":"text","align":"right","baseline":"middle","dx":-13},"encoding":{"text":{"field":"t"}}},
{"data":{"values":[{"d":0,"t":"Mon"},{"d":1,"t":"Tue"},{"d":2,"t":"Wed"},{"d":3,"t":"Thu"},{"d":4,"t":"Fri"},{"d":5,"t":"Sat"},{"d":6,"t":"Sun"}]},"transform":[{"calculate":"68+37*datum.d","as":"px"},{"calculate":"147.5+13.25*datum.d","as":"py"}],"mark":{"type":"text","align":"center","baseline":"middle","dx":-24,"dy":12.5},"encoding":{"text":{"field":"t"}}},
{"data":{"values":[{"h":0,"t":"00:00"},{"h":5,"t":"05:00"},{"h":10,"t":"10:00"},{"h":15,"t":"15:00"},{"h":20,"t":"20:00"}]},"transform":[{"calculate":"68+37*6+11.08*datum.h","as":"px"},{"calculate":"147.5+13.25*6-2.79*datum.h","as":"py"}],"mark":{"type":"text","align":"center","baseline":"middle","dx":24,"dy":12.5},"encoding":{"text":{"field":"t"}}},
{"data":{"values":[{"z":4.65,"t":"Demand (kW)"}]},"transform":[{"calculate":"68","as":"px"},{"calculate":"147.5-4.3*(datum.z+1.28)","as":"py"}],"mark":{"type":"text","align":"center","baseline":"middle","angle":270,"fontSize":15,"dy":-51},"encoding":{"text":{"field":"t"}}}
]},
{"width":29,"height":270,"encoding":{"y":{"field":"lo","type":"quantitative","scale":{"domain":[-3.41,13.69],"nice":false,"zero":false},"axis":{"orient":"right","values":[0,2,4,6,8,10,12],"labelExpr":"''+datum.value","domain":false,"ticks":false,"grid":false,"title":null,"labelFont":"Liberation Sans","labelFontSize":13,"labelColor":"#262626","labelPadding":4}},"y2":{"field":"hi"}},
"layer":[
{"data":{"name":"jet"},"transform":[{"calculate":"(datum.lo+datum.hi)/2","as":"m"}],"mark":{"type":"rect"},"encoding":{"x":{"datum":0,"type":"quantitative","scale":{"domain":[0,29],"nice":false,"zero":false},"axis":null},"x2":{"datum":29},"color":{"field":"m","type":"quantitative","scale":{"type":"quantize","domain":[-0.65,12.05],"nice":false,"zero":false,"range":["#0000bf","#0000ff","#0040ff","#0080ff","#00bfff","#00ffff","#40ffbf","#80ff80","#bfff40","#ffff00","#ffbf00","#ff8000","#ff4000","#ff0000","#bf0000","#800000"]},"legend":null}}},
{"data":{"values":[{"lo":-0.65,"hi":12.05}]},"mark":{"type":"rule","stroke":"white","strokeWidth":1,"opacity":0.4},"encoding":{"x":{"datum":0,"type":"quantitative"},"x2":{"datum":29}}},
{"data":{"values":[{"lo":0,"hi":0},{"lo":2,"hi":2},{"lo":4,"hi":4},{"lo":6,"hi":6},{"lo":8,"hi":8},{"lo":10,"hi":10},{"lo":12,"hi":12}]},"mark":{"type":"rule","stroke":"#262626","strokeWidth":1},"encoding":{"x":{"datum":26,"type":"quantitative"},"x2":{"datum":29}}},
{"data":{"values":[{"lo":-0.65,"hi":12.05}]},"mark":{"type":"rect","fill":null,"stroke":"#262626","strokeWidth":1},"encoding":{"x":{"datum":0,"type":"quantitative"},"x2":{"datum":29}}}
]}
]},
{"spacing":23,"resolve":{"scale":{"color":"independent"}},"hconcat":[
{"width":570,"height":256,"title":{"text":"Load shifting in context of wind energy","offset":-32,"dx":24,"anchor":"middle"},
"encoding":{"x":{"field":"px","type":"quantitative","scale":{"domain":[0,570],"nice":false,"zero":false},"axis":null},"y":{"field":"py","type":"quantitative","scale":{"domain":[526,270],"nice":false,"zero":false},"axis":null}},
"layer":[
{"data":{"name":"g2"},"transform":[{"calculate":"68+37*datum.d+11.08*datum.h","as":"px"},{"calculate":"437+11.5*datum.d-2.5*datum.h-12.1*(datum.z+2.3)","as":"py"},{"calculate":"68+37*datum.d2+11.08*datum.h2","as":"px2"},{"calculate":"437+11.5*datum.d2-2.5*datum.h2-12.1*(datum.z2+2.3)","as":"py2"}],
"mark":{"type":"rule","strokeWidth":1},"encoding":{"x2":{"field":"px2"},"y2":{"field":"py2"},"color":{"condition":{"test":"datum.k=='a'","value":"#262626"},"value":"#e2e2e2"}}},
{"data":{"name":"s2"},"transform":[{"window":[{"op":"lag","field":"z","as":"zb"}],"groupby":["d"],"sort":[{"field":"h"}]},{"window":[{"op":"lead","field":"z","as":"zn"},{"op":"lead","field":"d","as":"dn"}],"groupby":["h"],"sort":[{"field":"d"}]},{"filter":"datum.dn!=null"},{"calculate":"[0,1,2]","as":"w"},{"flatten":["w"]},{"filter":"datum.w==2||datum.h>0"},
{"calculate":"(datum.z==0&&datum.zn==0?4.2:3.2)+11*max(0,datum.z-(datum.zb==null?datum.z:datum.zb))","as":"bw"},{"calculate":"datum.w==2?0:datum.bw/2","as":"off"},{"calculate":"68+37*datum.d+11.08*datum.h","as":"px"},{"calculate":"437+11.5*datum.d-2.5*datum.h-12.1*(datum.z+2.3)+datum.off","as":"py"},{"calculate":"68+37*datum.dn+11.08*datum.h","as":"px2"},{"calculate":"437+11.5*datum.dn-2.5*datum.h-12.1*(datum.zn+2.3)+datum.off","as":"py2"},{"calculate":"(datum.z+datum.zn)/2","as":"zm"},{"calculate":"(24-datum.h)*10+datum.w","as":"o"},{"calculate":"datum.w==0?datum.bw+1:(datum.w==1?datum.bw:1.2)","as":"sw"},{"calculate":"datum.w==1&&!(datum.z==0&&datum.zn==0)?[1.3,0.9]:[1,0]","as":"dash"}],
"mark":{"type":"rule"},"encoding":{"x2":{"field":"px2"},"y2":{"field":"py2"},"order":{"field":"o","type":"quantitative"},"size":{"field":"sw","type":"quantitative","scale":null},"strokeDash":{"field":"dash","type":"nominal","scale":null},"color":{"condition":{"test":"datum.w==0","value":"white"},"field":"zm","type":"quantitative","scale":{"type":"quantize","domain":[-2.25,3.99],"nice":false,"zero":false,"range":["#0000bf","#0000ff","#0040ff","#0080ff","#00bfff","#00ffff","#40ffbf","#80ff80","#bfff40","#ffff00","#ffbf00","#ff8000","#ff4000","#ff0000","#bf0000","#800000"]},"legend":null}}},
{"data":{"values":[{"z":-2,"t":"-2"},{"z":0,"t":"0"},{"z":2,"t":"2"}]},"transform":[{"calculate":"68","as":"px"},{"calculate":"437-12.1*(datum.z+2.3)","as":"py"}],"mark":{"type":"text","align":"right","baseline":"middle","dx":-13},"encoding":{"text":{"field":"t"}}},
{"data":{"values":[{"d":0,"t":"Mon"},{"d":1,"t":"Tue"},{"d":2,"t":"Wed"},{"d":3,"t":"Thu"},{"d":4,"t":"Fri"},{"d":5,"t":"Sat"},{"d":6,"t":"Sun"}]},"transform":[{"calculate":"68+37*datum.d","as":"px"},{"calculate":"437+11.5*datum.d","as":"py"}],"mark":{"type":"text","align":"center","baseline":"middle","dx":-24,"dy":12.5},"encoding":{"text":{"field":"t"}}},
{"data":{"values":[{"h":0,"t":"00:00"},{"h":5,"t":"05:00"},{"h":10,"t":"10:00"},{"h":15,"t":"15:00"},{"h":20,"t":"20:00"}]},"transform":[{"calculate":"68+37*6+11.08*datum.h","as":"px"},{"calculate":"437+11.5*6-2.5*datum.h","as":"py"}],"mark":{"type":"text","align":"center","baseline":"middle","dx":24,"dy":12.5},"encoding":{"text":{"field":"t"}}},
{"data":{"values":[{"z":0.34,"t":"Shifted Loads (kW)"}]},"transform":[{"calculate":"68","as":"px"},{"calculate":"437-12.1*(datum.z+2.3)","as":"py"}],"mark":{"type":"text","align":"center","baseline":"middle","angle":270,"fontSize":15,"dy":-53},"encoding":{"text":{"field":"t"}}}
]},
{"width":29,"height":256,"encoding":{"y":{"field":"lo","type":"quantitative","scale":{"domain":[-2.87,5.08],"nice":false,"zero":false},"axis":{"orient":"right","values":[-2,-1,0,1,2,3],"labelExpr":"''+datum.value","domain":false,"ticks":false,"grid":false,"title":null,"labelFont":"Liberation Sans","labelFontSize":13,"labelColor":"#262626","labelPadding":4}},"y2":{"field":"hi"}},
"layer":[
{"data":{"name":"jet2"},"transform":[{"calculate":"(datum.lo+datum.hi)/2","as":"m"}],"mark":{"type":"rect"},"encoding":{"x":{"datum":0,"type":"quantitative","scale":{"domain":[0,29],"nice":false,"zero":false},"axis":null},"x2":{"datum":29},"color":{"field":"m","type":"quantitative","scale":{"type":"quantize","domain":[-2.25,3.99],"nice":false,"zero":false,"range":["#0000bf","#0000ff","#0040ff","#0080ff","#00bfff","#00ffff","#40ffbf","#80ff80","#bfff40","#ffff00","#ffbf00","#ff8000","#ff4000","#ff0000","#bf0000","#800000"]},"legend":null}}},
{"data":{"values":[{"lo":-2.25,"hi":3.99}]},"mark":{"type":"rule","stroke":"white","strokeWidth":1,"opacity":0.4},"encoding":{"x":{"datum":0,"type":"quantitative"},"x2":{"datum":29}}},
{"data":{"values":[{"lo":-2,"hi":-2},{"lo":-1,"hi":-1},{"lo":0,"hi":0},{"lo":1,"hi":1},{"lo":2,"hi":2},{"lo":3,"hi":3}]},"mark":{"type":"rule","stroke":"#262626","strokeWidth":1},"encoding":{"x":{"datum":26,"type":"quantitative"},"x2":{"datum":29}}},
{"data":{"values":[{"lo":-2.25,"hi":3.99}]},"mark":{"type":"rect","fill":null,"stroke":"#262626","strokeWidth":1},"encoding":{"x":{"datum":0,"type":"quantitative"},"x2":{"datum":29}}}
]}
]}
]}
